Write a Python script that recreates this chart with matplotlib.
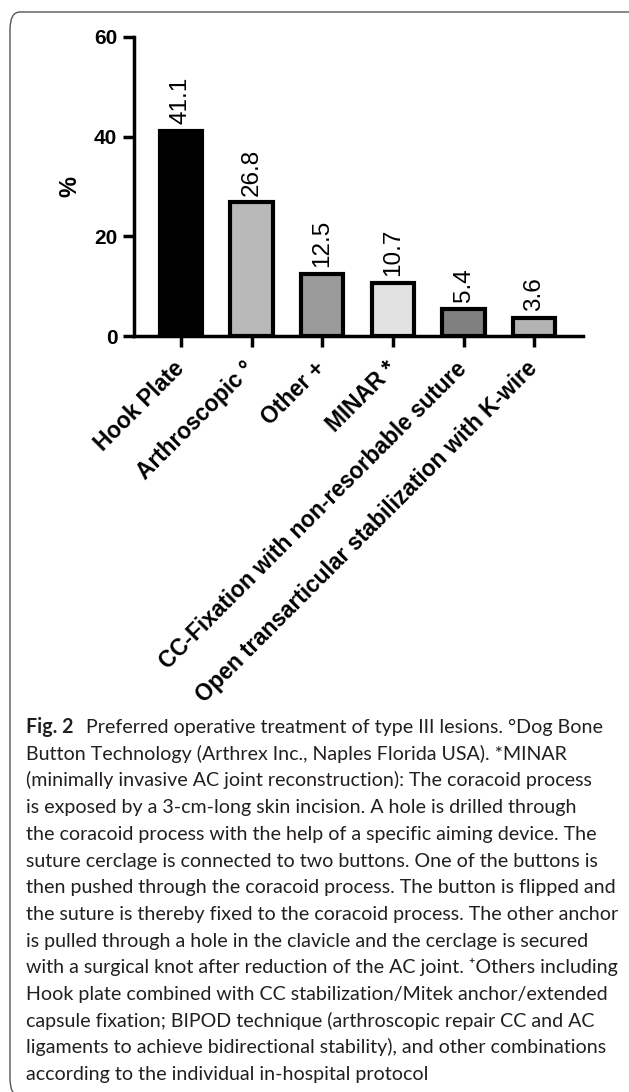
import matplotlib
matplotlib.use("Agg")
import matplotlib.pyplot as plt
from matplotlib.patches import FancyBboxPatch

categories = ["Hook Plate", "Arthroscopic \u00b0", "Other +", "MINAR *",
              "CC-Fixation with non-resorbable suture",
              "Open transarticular stabilization with K-wire"]
values = [41.1, 26.8, 12.5, 10.7, 5.4, 3.6]
value_labels = ["41.1", "26.8", "12.5", "10.7", "5.4", "3.6"]
bar_colors = ["#000000", "#b9b9b9", "#9b9b9b", "#e0e1e0", "#808080", "#b4b4b4"]
y_ticks = [0, 20, 40, 60]

caption_lines = [
    "Preferred operative treatment of type III lesions. \u00b0Dog Bone",
    "Button Technology (Arthrex Inc., Naples Florida USA). *MINAR",
    "(minimally invasive AC joint reconstruction): The coracoid process",
    "is exposed by a 3-cm-long skin incision. A hole is drilled through",
    "the coracoid process with the help of a specific aiming device. The",
    "suture cerclage is connected to two buttons. One of the buttons is",
    "then pushed through the coracoid process. The button is flipped and",
    "the suture is thereby fixed to the coracoid process. The other anchor",
    "is pulled through a hole in the clavicle and the cerclage is secured",
    "with a surgical knot after reduction of the AC joint. \u207aOthers including",
    "Hook plate combined with CC stabilization/Mitek anchor/extended",
    "capsule fixation; BIPOD technique (arthroscopic repair CC and AC",
    "ligaments to achieve bidirectional stability), and other combinations",
    "according to the individual in-hospital protocol",
]

W, H = 629, 1092
plt.rcParams['font.family'] = ['Liberation Sans', 'DejaVu Sans']
fig = plt.figure(figsize=(W / 100, H / 100), dpi=100)

def fx(px):
    return px / W

def fy(py):
    return 1 - py / H

# outer rounded frame
frame = FancyBboxPatch((fx(10), fy(1096)), fx(640) - fx(10), fy(12) - fy(1096),
                       boxstyle="round,pad=0,rounding_size=0.016",
                       transform=fig.transFigure, fill=False,
                       edgecolor="#555555", linewidth=1.0, clip_on=False)
fig.patches.append(frame)

ax = fig.add_axes([fx(134), fy(336), fx(583) - fx(134), fy(37) - fy(336)])
x = list(range(len(categories)))
ax.bar(x, values, width=0.6, color=bar_colors, edgecolor="black", linewidth=3.0, zorder=2)
ax.set_xlim(-0.665, 5.69)
ax.set_ylim(0, 60)
ax.set_yticks(y_ticks)
ax.set_yticklabels([str(t) for t in y_ticks], fontsize=15, fontweight="bold")
ax.set_xticks(x)
ax.set_xticklabels(categories, rotation=45, ha="right", rotation_mode="anchor",
                   fontsize=16.3, fontweight="bold")
for lab in ax.get_xticklabels():
    lab.set_va("center")
ax.tick_params(axis="both", width=2.5, length=8, color="black")
ax.tick_params(axis="y", pad=4)
ax.tick_params(axis="x", pad=13)
for s in ["top", "right"]:
    ax.spines[s].set_visible(False)
for s in ["left", "bottom"]:
    ax.spines[s].set_linewidth(2.5)
ax.set_ylabel("%", fontsize=17, fontweight="bold", labelpad=9)

for xi, v, lbl in zip(x, values, value_labels):
    ax.annotate(lbl, (xi, v), xytext=(0, 5), textcoords="offset points",
                rotation=90, ha="center", va="bottom", fontsize=17.5)

# caption
cap_font = ["Lato", "DejaVu Sans"]
cap_color = "#231f20"
renderer = fig.canvas.get_renderer()
probe = fig.text(0, 0, caption_lines[6], fontsize=12, family=cap_font)
wpx = probe.get_window_extent(renderer).width
probe.remove()
cap_size = 12 * 586 / wpx

x0 = 26
base0 = 733
step = 26.7
fig_lbl = fig.text(fx(x0), fy(base0), "Fig. 2", fontsize=cap_size, family=cap_font,
                   fontweight="bold", color=cap_color, va="baseline", ha="left")
bw = fig_lbl.get_window_extent(renderer).width
for i, line in enumerate(caption_lines):
    xs = x0 + (bw + 12 if i == 0 else 0)
    fig.text(fx(xs), fy(base0 + i * step), line, fontsize=cap_size, family=cap_font,
             color=cap_color, va="baseline", ha="left")

fig.savefig("out.png", dpi=100)
